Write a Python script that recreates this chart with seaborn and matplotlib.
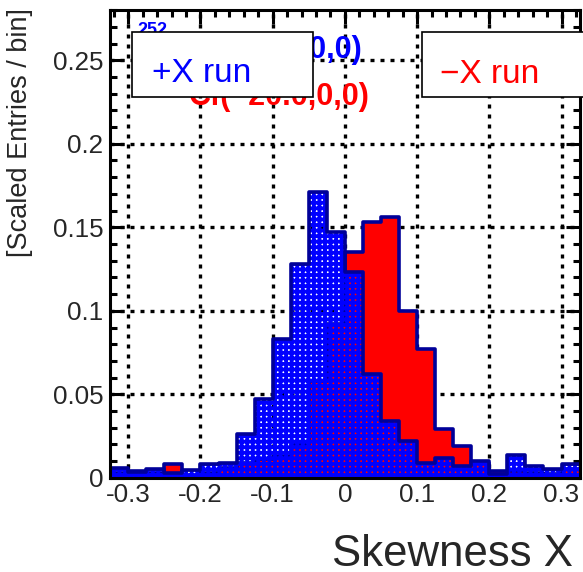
import numpy as np
import pandas as pd
import matplotlib
matplotlib.use("Agg")
import matplotlib.pyplot as plt
from matplotlib.patches import Rectangle
from matplotlib.ticker import MultipleLocator, FuncFormatter
import seaborn as sns

# Skewness X histograms, scaled entries per bin (bin width 0.025)
bin_edges = [round(v, 4) for v in np.linspace(-0.325, 0.325, 27)]
plus_x_run = [0.006, 0.0035, 0.005, 0.003, 0.0044, 0.008, 0.009, 0.026, 0.047,
              0.083, 0.128, 0.171, 0.147, 0.123, 0.062, 0.034, 0.022, 0.009,
              0.012, 0.007, 0.010, 0.0023, 0.0137, 0.007, 0.005, 0.008]
minus_x_run = [0.003, 0.004, 0.003, 0.008, 0.001, 0.003, 0.006, 0.009, 0.011,
               0.013, 0.020, 0.058, 0.092, 0.135, 0.153, 0.156, 0.100, 0.077,
               0.029, 0.019, 0.009, 0.004, 0.004, 0.003, 0.002, 0.005]
legend_labels = ["+X run", "\u2212X run"]
source_labels = ["Cf(+20.0,0,0)", "Cf(\u221220.0,0,0)"]

edges = np.array(bin_edges)
centers = 0.5 * (edges[:-1] + edges[1:])
df = pd.DataFrame({"center": centers, "plus": plus_x_run, "minus": minus_x_run})

sns.set_style("ticks")
plt.rcParams["font.family"] = ["Liberation Sans", "DejaVu Sans"]
plt.rcParams["axes.unicode_minus"] = False
plt.rcParams["hatch.linewidth"] = 2.75

W, H = 583, 572
fig = plt.figure(figsize=(W / 100, H / 100), dpi=100)
ax = fig.add_axes([110.2 / W, 1 - 477.8 / H, (579.6 - 110.2) / W, (477.8 - 10.2) / H])

RED = "#ff0000"
BLUE = "#0000ff"
NAVY = "#000099"

# -X run: solid red with dark outline
sns.histplot(data=df, x="center", weights="minus", bins=bin_edges, element="step",
             fill=True, color=RED, alpha=1, linewidth=0, zorder=1, ax=ax)
sns.histplot(data=df, x="center", weights="minus", bins=bin_edges, element="step",
             fill=False, color=NAVY, linewidth=2.6, zorder=1.5, ax=ax)
# +X run: blue mesh pattern (see-through holes) with dark outline
sns.histplot(data=df, x="center", weights="plus", bins=bin_edges, element="step",
             fill=True, color=BLUE, facecolor="none", edgecolor=BLUE, hatch="+++",
             alpha=1, linewidth=0, zorder=2, ax=ax)
sns.histplot(data=df, x="center", weights="plus", bins=bin_edges, element="step",
             fill=False, color=NAVY, linewidth=2.6, zorder=2.2, ax=ax)

ax.set_xlim(-0.325, 0.325)
ax.set_ylim(0, 0.28)

fmt = FuncFormatter(lambda v, p: f"{round(v, 6) + 0.0:g}")
ax.xaxis.set_major_locator(MultipleLocator(0.1))
ax.xaxis.set_minor_locator(MultipleLocator(0.02))
ax.yaxis.set_major_locator(MultipleLocator(0.05))
ax.yaxis.set_minor_locator(MultipleLocator(0.01))
ax.xaxis.set_major_formatter(fmt)
ax.yaxis.set_major_formatter(fmt)

ax.set_axisbelow(True)
ax.grid(True, which="major", color="black", linestyle=(0, (1.2, 1.8)), linewidth=2.4)

ax.tick_params(which="both", direction="in", top=True, right=True, width=2.2,
               color="black", labelsize=18.7)
ax.tick_params(which="major", length=10)
ax.tick_params(which="minor", length=5)
ax.tick_params(axis="x", pad=3.6)
ax.tick_params(axis="y", pad=5)
for s in ax.spines.values():
    s.set_linewidth(2.2)
    s.set_color("black")

ax.set_ylabel("[Scaled Entries / bin]", loc="top", fontsize=19.5)
ax.yaxis.set_label_coords(-0.1645, 1.004)
ax.set_xlabel("Skewness X", loc="right", fontsize=31.5)
ax.xaxis.set_label_coords(0.986, -0.189)
ax.xaxis.label.set_va("baseline")


def fx(px):
    return px / W


def fy(py):
    return 1 - py / H


# source position captions (partly behind the legend boxes)
fig.text(fx(137), fy(35), "252", color=BLUE, fontsize=13, fontweight="bold", zorder=2)
fig.text(fx(362), fy(58), source_labels[0], color=BLUE, fontsize=22,
         fontweight="bold", ha="right", va="baseline", zorder=2)
fig.text(fx(145), fy(82), "252", color=RED, fontsize=13, fontweight="bold", zorder=2)
fig.text(fx(370), fy(105), source_labels[1], color=RED, fontsize=22,
         fontweight="bold", ha="right", va="baseline", zorder=2)

# legend boxes
for (x0, x1), label, col, tx, ty in [((132, 313), legend_labels[0], BLUE, 152, 82),
                                      ((422, 610), legend_labels[1], RED, 440, 83)]:
    fig.add_artist(Rectangle((fx(x0), fy(97)), fx(x1) - fx(x0), fy(32) - fy(97),
                             transform=fig.transFigure, facecolor="white",
                             edgecolor="black", linewidth=1.2, zorder=4))
    fig.text(fx(tx), fy(ty), label, color=col, fontsize=24, ha="left",
             va="baseline", zorder=5)

fig.savefig("out.png", dpi=100)
